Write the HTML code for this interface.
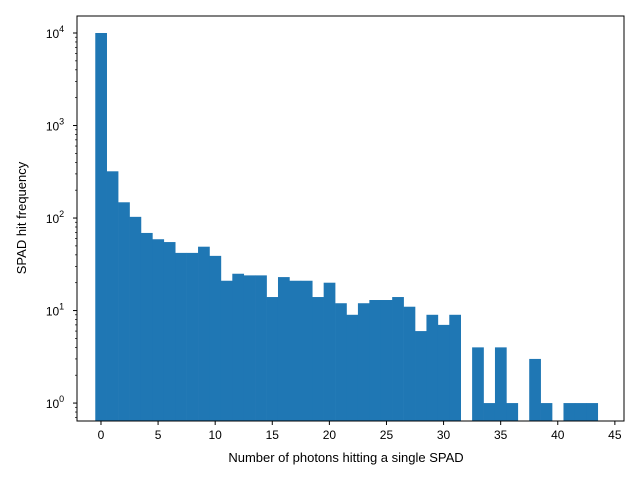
<!DOCTYPE html>
<html><head><meta charset="utf-8"><style>
body{margin:0;background:#fff}
svg{display:block;font-family:"Liberation Sans","DejaVu Sans",sans-serif}
</style></head><body>
<svg id="chart" width="640" height="480">
<rect width="640" height="480" fill="#fff"/>
<g id="bars"></g>
<g id="axes"></g>
<text x="346" y="462" font-size="13" text-anchor="middle">Number of photons hitting a single SPAD</text>
<text transform="translate(26,218) rotate(-90)" font-size="13" text-anchor="middle">SPAD hit frequency</text>
</svg>
<script>
const binCenters=[0,1,2,3,4,5,6,7,8,9,10,11,12,13,14,15,16,17,18,19,20,21,22,23,24,25,26,27,28,29,30,31,32,33,34,35,36,37,38,39,40,41,42,43];
const counts=[10000,320,148,103,69,59,55,42,42,49,39,21,25,24,24,14,23,21,21,14,20,12,9,12,13,13,14,11,6,9,7,9,0,4,1,4,1,0,3,1,0,1,1,1];
const xTicks=[0,5,10,15,20,25,30,35,40,45];
const yDecades=[0,1,2,3,4];
const L=77,R=624,T=16,B=421;
const xMin=-2.1,xMax=45.8;
const yMinLog=Math.log10(0.64),yMaxLog=4+17/92.5;
const sx=v=>L+(v-xMin)/(xMax-xMin)*(R-L);
const sy=v=>B-(Math.log10(v)-yMinLog)/(yMaxLog-yMinLog)*(B-T);
const NS="http://www.w3.org/2000/svg";
function mk(tag,attrs,parent){const e=document.createElementNS(NS,tag);for(const k in attrs)e.setAttribute(k,attrs[k]);parent.appendChild(e);return e;}
const bars=document.getElementById('bars'),axes=document.getElementById('axes');
binCenters.forEach((c,i)=>{
  if(counts[i]<=0)return;
  const x0=sx(c-0.5),x1=sx(c+0.5),y=sy(counts[i]);
  const r=mk('rect',{x:x0,y:y,width:x1-x0+0.3,height:B-y,fill:'#1f77b4'},bars);
  
  
});
const frame=mk('rect',{x:L,y:T,width:R-L,height:B-T,fill:'none',stroke:'#000','stroke-width':1},axes);


xTicks.forEach(t=>{
  const x=sx(t);
  mk('line',{x1:x,x2:x,y1:B,y2:B+4,stroke:'#000'},axes);
  const tx=mk('text',{x:x,y:B+18,'font-size':12,'text-anchor':'middle'},axes);
  tx.textContent=t;
  
  
});
yDecades.forEach(d=>{
  const y=sy(Math.pow(10,d));
  mk('line',{x1:L-4,x2:L,y1:y,y2:y,stroke:'#000'},axes);
  const tx=mk('text',{x:L-22,y:y+5,'font-size':12,'text-anchor':'middle'},axes);
  tx.textContent='10';
  const sup=mk('tspan',{dy:-6,'font-size':9},tx);
  sup.textContent=d;
  
  
});
for(let d=-1;d<=4;d++)for(let m=2;m<=9;m++){
  const v=m*Math.pow(10,d);
  if(Math.log10(v)<yMinLog||Math.log10(v)>yMaxLog)continue;
  const y=sy(v);
  mk('line',{x1:L-2,x2:L,y1:y,y2:y,stroke:'#000','stroke-width':0.7},axes);
}
</script>
</body></html>
